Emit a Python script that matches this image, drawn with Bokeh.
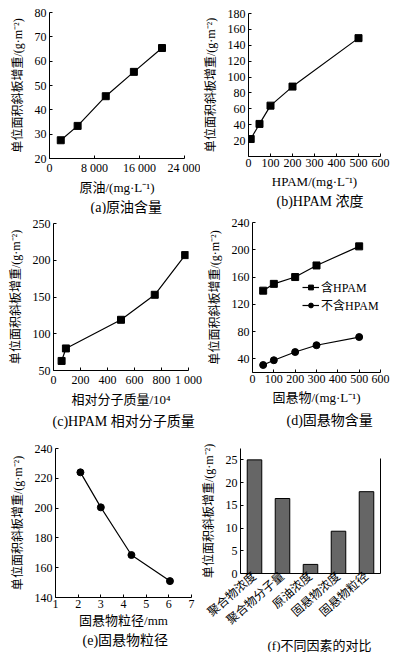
from bokeh.plotting import figure
from bokeh.layouts import column, row
from bokeh.models import Title, Legend, LegendItem, LinearAxis, FixedTicker, Range1d, FactorRange
from bokeh.embed import file_html
from bokeh.resources import INLINE

FONT = "Liberation Serif, Noto Sans CJK SC"
YTITLE = "单位面积斜板增重/(g·m⁻²)"

# ---------------- data ----------------
oil_x = [2000, 5000, 10000, 15000, 20000]
oil_y = [27.5, 33.4, 45.6, 55.6, 65.4]
oil_ticks = [0, 8000, 16000, 24000]
oil_tick_labels = ["0", "8 000", "16 000", "24 000"]

hpam_x = [10, 50, 100, 200, 500]
hpam_y = [22, 41, 64, 88, 149]

mw_x = [60, 92, 500, 750, 975]
mw_y = [63, 80, 119, 153, 207]
mw_ticks = [0, 200, 400, 600, 800, 1000]
mw_tick_labels = ["0", "200", "400", "600", "800", "1 000"]

ss_x = [50, 100, 200, 300, 500]
ss_with = [140, 150, 160, 177, 205]
ss_without = [31, 38, 50, 60, 72]

size_x = [2.1, 3.0, 4.35, 6.05]
size_y = [224, 200.5, 168.5, 151]

factors = ["聚合物浓度", "聚合物分子量", "原油浓度", "固悬物浓度", "固悬物粒径"]
factor_vals = [25, 16.5, 2, 9.3, 18]


def style(p, xlabel, caption, cap_offset, cap_size="14px", cap_standoff=0,
          xlabel_standoff=2):
    p.outline_line_color = None
    p.background_fill_color = "white"
    p.border_fill_color = "white"
    p.xgrid.grid_line_color = None
    p.ygrid.grid_line_color = None
    for ax in p.xaxis + p.yaxis:
        ax.axis_line_color = "black"
        ax.axis_line_width = 1
        ax.major_tick_in = 3
        ax.major_tick_out = 0
        ax.major_tick_line_color = "black"
        ax.minor_tick_line_color = None
        ax.major_label_text_font = FONT
        ax.major_label_text_font_size = "12px"
        ax.major_label_text_color = "black"
        ax.axis_label_text_font = FONT
        ax.axis_label_text_font_size = "12px"
        ax.axis_label_text_font_style = "normal"
        ax.axis_label_text_color = "black"
    p.yaxis.major_label_standoff = 3
    p.xaxis.major_label_standoff = 2
    p.yaxis.axis_label = YTITLE
    p.yaxis.axis_label_standoff = 7
    if xlabel:
        p.xaxis.axis_label = xlabel
        p.xaxis.axis_label_standoff = xlabel_standoff
        p.xaxis.axis_label_text_font_size = "13px"
    p.add_layout(Title(text=caption, align="left", offset=cap_offset,
                       text_font=FONT, text_font_size=cap_size,
                       text_font_style="normal", text_color="black",
                       standoff=cap_standoff), "below")


def fig(w, h, l, r, t, b, xr, yr):
    return figure(width=w, height=h, x_range=xr, y_range=yr,
                  output_backend="svg", toolbar_location=None,
                  min_border_left=l, min_border_right=r,
                  min_border_top=t, min_border_bottom=b)


# (a)
pa = fig(200, 214, 49, 16, 12, 56, Range1d(0, 24000), Range1d(20, 80))
pa.line(oil_x, oil_y, line_color="black", line_width=1.2)
pa.scatter(oil_x, oil_y, marker="square", size=7, color="black")
style(pa, "原油/(mg·L⁻¹)", "(a)原油含量", 41)
pa.xaxis.ticker = FixedTicker(ticks=oil_ticks)
pa.xaxis.major_label_overrides = {t: s for t, s in zip(oil_ticks, oil_tick_labels)}
pa.yaxis.ticker = FixedTicker(ticks=[20, 30, 40, 50, 60, 70, 80])

# (b)
pb = fig(196, 214, 40, 16, 13, 58, Range1d(0, 600), Range1d(0, 180))
pb.line(hpam_x, hpam_y, line_color="black", line_width=1.2)
pb.scatter(hpam_x, hpam_y, marker="square", size=7, color="black")
style(pb, "HPAM/(mg·L⁻¹)", "(b)HPAM 浓度", 28, cap_standoff=1, xlabel_standoff=4)
pb.xaxis.ticker = FixedTicker(ticks=[0, 100, 200, 300, 400, 500, 600])
pb.yaxis.ticker = FixedTicker(ticks=[20, 40, 60, 80, 100, 120, 140, 160, 180])

# (c)
pc = fig(204, 221, 53, 16, 9, 65, Range1d(0, 1000), Range1d(50, 250))
pc.line(mw_x, mw_y, line_color="black", line_width=1.2)
pc.scatter(mw_x, mw_y, marker="square", size=7, color="black")
style(pc, "相对分子质量/10⁴", "(c)HPAM 相对分子质量", -1, cap_standoff=5)
pc.xaxis.ticker = FixedTicker(ticks=mw_ticks)
pc.xaxis.major_label_overrides = {t: s for t, s in zip(mw_ticks, mw_tick_labels)}
pc.yaxis.ticker = FixedTicker(ticks=[50, 100, 150, 200, 250])

# (d)
pd_ = fig(192, 221, 40, 16, 8, 63, Range1d(0, 600), Range1d(20, 240))
r1 = pd_.line(ss_x, ss_with, line_color="black", line_width=1.2)
r1m = pd_.scatter(ss_x, ss_with, marker="square", size=7, color="black")
r2 = pd_.line(ss_x, ss_without, line_color="black", line_width=1.2)
r2m = pd_.scatter(ss_x, ss_without, marker="circle", size=7, color="black")
style(pd_, "固悬物/(mg·L⁻¹)", "(d)固悬物含量", 34, cap_standoff=6, xlabel_standoff=4)
pd_.xaxis.ticker = FixedTicker(ticks=[0, 100, 200, 300, 400, 500, 600])
pd_.yaxis.ticker = FixedTicker(ticks=[40, 80, 120, 160, 200, 240])
leg = Legend(items=[LegendItem(label="含HPAM", renderers=[r1, r1m]),
                    LegendItem(label="不含HPAM", renderers=[r2, r2m])],
             location=(50, 58), glyph_width=17, glyph_height=12,
             label_height=12, label_standoff=2, spacing=-5, padding=0, margin=0,
             border_line_color=None, background_fill_alpha=0,
             label_text_font=FONT, label_text_font_size="12px",
             label_text_color="black")
pd_.add_layout(leg, "center")

# (e)
pe = fig(198, 217, 55, 7, 13, 55, Range1d(1, 7), Range1d(140, 240))
pe.line(size_x, size_y, line_color="black", line_width=1.2)
pe.scatter(size_x, size_y, marker="circle", size=7, color="black")
style(pe, "固悬物粒径/mm", "(e)固悬物粒径", 27)
pe.xaxis.ticker = FixedTicker(ticks=[1, 2, 3, 4, 5, 6, 7])
pe.yaxis.ticker = FixedTicker(ticks=[140, 160, 180, 200, 220, 240])

# (f)
pf = fig(198, 217, 39, 16, 13, 78, FactorRange(*factors), Range1d(0, 27.5))
pf.vbar(x=factors, top=factor_vals, width=0.52, fill_color="#666666",
        line_color="black", line_width=1)
pf.x_range.range_padding = 0
style(pf, None, "(f)不同因素的对比", 27, "13px")
pf.xaxis.major_tick_line_color = None
pf.xaxis.major_label_orientation = 0.72
pf.xaxis.major_label_standoff = 1
pf.xaxis.major_label_text_font_size = "12px"
pf.yaxis.ticker = FixedTicker(ticks=[0, 5, 10, 15, 20, 25])
right_ax = LinearAxis(bounds=(0, 25.4), ticker=FixedTicker(ticks=[]),
                      major_tick_line_color=None, minor_tick_line_color=None,
                      axis_line_color="black", axis_label=None)
pf.add_layout(right_ax, "right")

layout = column(row(column(pa), column(pb)),
                row(column(pc), column(pd_)),
                row(column(pe), column(pf)))
open("out.html", "w").write(file_html(layout, INLINE))
